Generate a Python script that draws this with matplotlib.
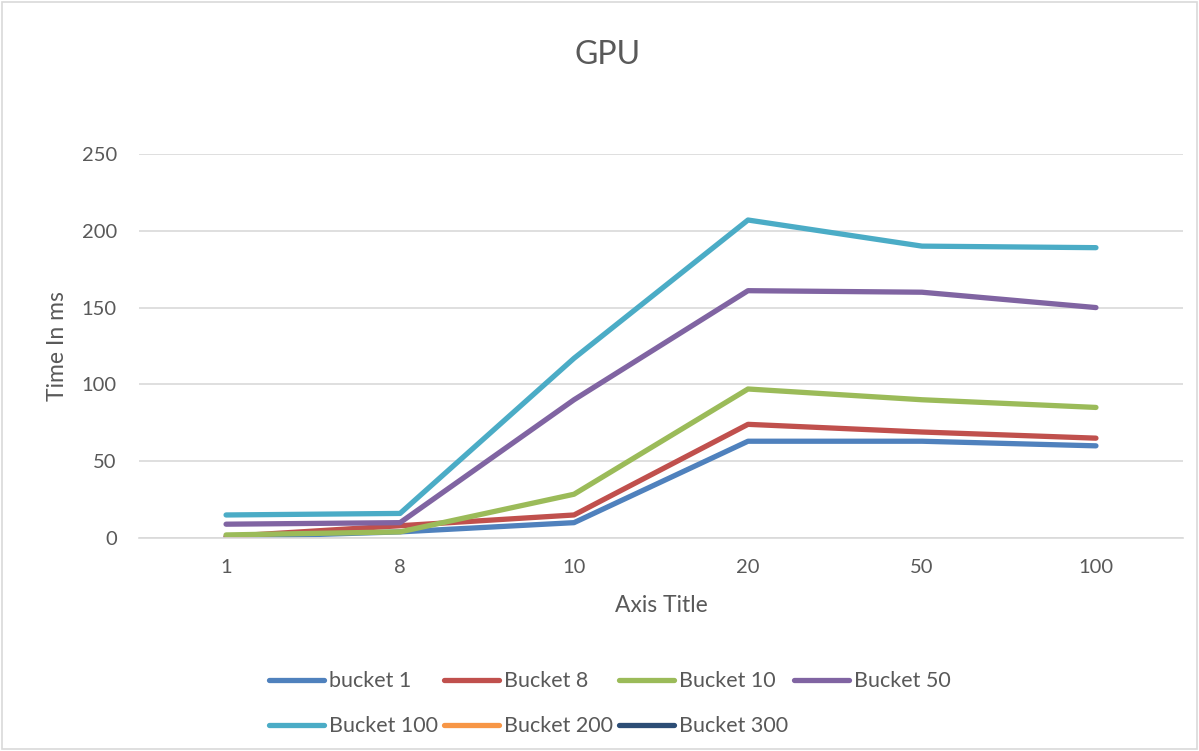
import matplotlib
matplotlib.use("Agg")
import matplotlib.pyplot as plt
from matplotlib.patches import Rectangle

plt.rcParams['font.family'] = ['Lato', 'DejaVu Sans']

# batch sizes on the x axis
categories = ["1", "8", "10", "20", "50", "100"]

# GPU timings (ms) per bucket size
bucket_1 = [0.5, 4, 10, 63, 63, 60]
bucket_8 = [1, 8, 15, 74, 69, 65]
bucket_10 = [2, 4, 28.5, 97, 90, 85]
bucket_50 = [9, 10, 90, 161, 160, 150]
bucket_100 = [15, 16, 117, 207, 190, 189]
bucket_200 = []
bucket_300 = []

series = [
    ("bucket 1", bucket_1, "#4F81BD"),
    ("Bucket 8", bucket_8, "#C0504D"),
    ("Bucket 10", bucket_10, "#9BBB59"),
    ("Bucket 50", bucket_50, "#8064A2"),
    ("Bucket 100", bucket_100, "#4BACC6"),
    ("Bucket 200", bucket_200, "#F79646"),
    ("Bucket 300", bucket_300, "#2C4D75"),
]

txt = "#595959"
grid = "#D9D9D9"

fig = plt.figure(figsize=(11.99, 7.51), dpi=100)
ax = fig.add_axes([0.116, 0.2836, 0.8706, 0.5114])

handles = []
for name, vals, col in series:
    xs = list(range(len(vals)))
    ln, = ax.plot(xs, vals, color=col, lw=3.8, solid_capstyle="round",
                  solid_joinstyle="round", label=name)
    handles.append(ln)

ax.set_xlim(-0.5, len(categories) - 0.5)
ax.set_ylim(0, 250)
ax.set_xticks(range(len(categories)))
ax.set_xticklabels(categories)
ax.set_yticks(range(0, 251, 50))
ax.tick_params(axis="both", length=0, labelsize=14.5, colors=txt)
ax.tick_params(axis="x", pad=15)
ax.tick_params(axis="y", pad=16)
ax.grid(axis="y", color=grid, lw=1.2)
ax.set_axisbelow(True)
for s in ["top", "right", "left"]:
    ax.spines[s].set_visible(False)
ax.spines["bottom"].set_color(grid)
ax.spines["bottom"].set_linewidth(1.2)

ax.set_xlabel("Axis Title", fontsize=16.5, color=txt, labelpad=14)
ax.set_ylabel("Time In ms", fontsize=16.5, color=txt, labelpad=10)
fig.text(0.507, 0.927, "GPU", ha="center", va="center", fontsize=23, color=txt)

# row-major legend ordering for 4 columns
order = [0, 4, 1, 5, 2, 6, 3]
fig.legend([handles[i] for i in order], [series[i][0] for i in order],
           ncol=4, loc="center left", bbox_to_anchor=(0.2244, 0.063),
           frameon=False, borderpad=0, borderaxespad=0,
           fontsize=15.5, labelcolor=txt, handlelength=2.55, handletextpad=0.22,
           columnspacing=0.3, labelspacing=1.15)

fig.patches.append(Rectangle((0.002, 0.002), 0.996, 0.996, transform=fig.transFigure,
                             fill=False, edgecolor=grid, lw=1.2))

fig.savefig("out.png", dpi=100)
